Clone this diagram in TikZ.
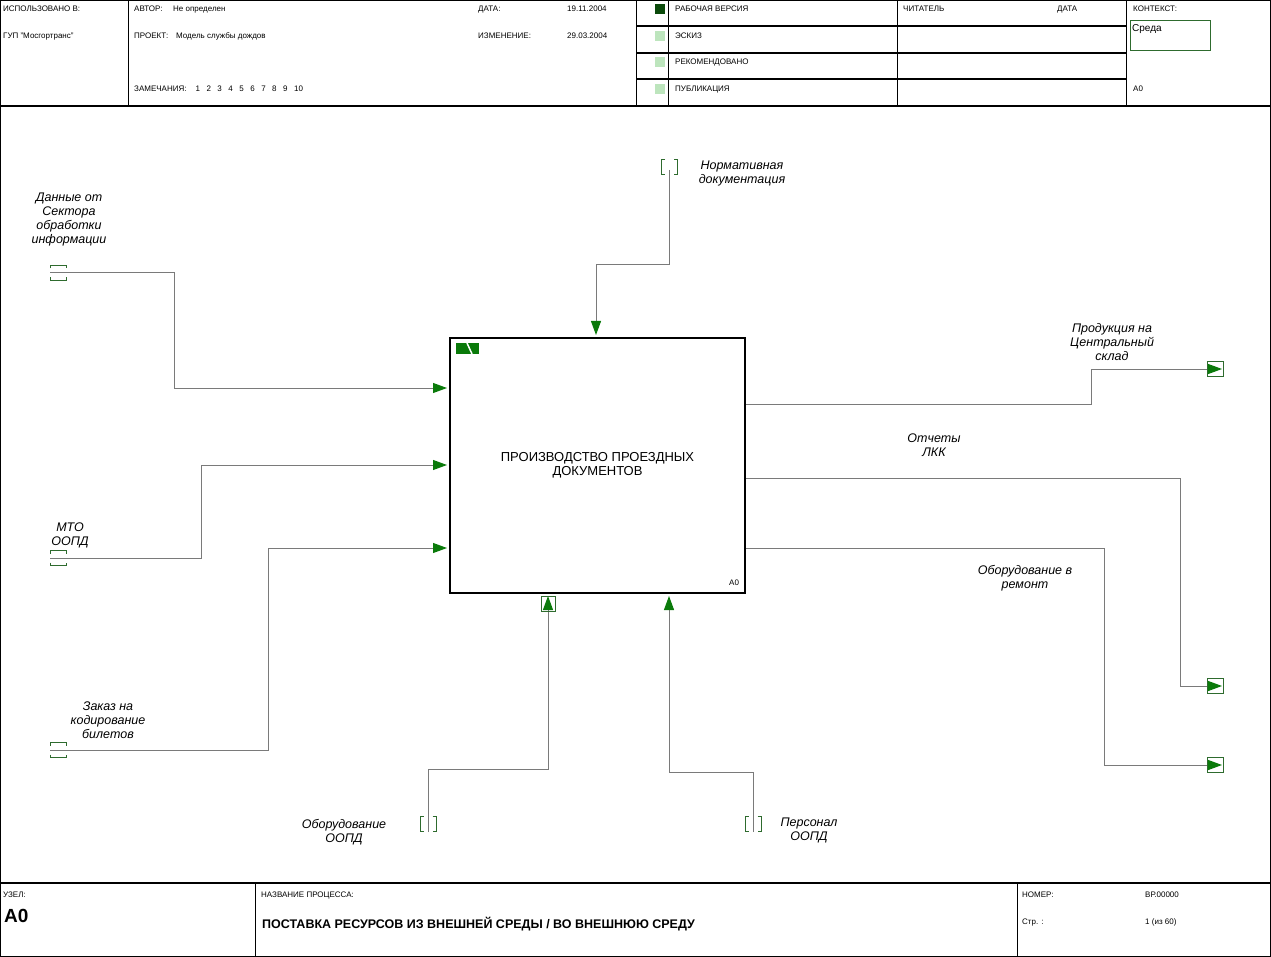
\documentclass[tikz,border=0pt]{standalone}
\usepackage{fontspec}
\setmainfont{Liberation Sans}
\usetikzlibrary{arrows.meta,calc}
\definecolor{agreen}{HTML}{0A7A0A}
\definecolor{tgreen}{HTML}{2E6B2E}
\definecolor{dgreen}{HTML}{0B4A0B}
\definecolor{lgreen}{HTML}{BDE5BD}
\definecolor{lgray}{HTML}{7A7A7A}
\newcommand\htunnel[1]{%
  \draw[tun] ($(#1)+(-8,-4.5)$) -- ($(#1)+(-8,-7.5)$) -- ($(#1)+(8,-7.5)$) -- ($(#1)+(8,-4.5)$);
  \draw[tun] ($(#1)+(-8,4.5)$) -- ($(#1)+(-8,7.5)$) -- ($(#1)+(8,7.5)$) -- ($(#1)+(8,4.5)$);}
\newcommand\vtunnel[1]{%
  \draw[tun] ($(#1)+(-4.5,-7.5)$) -- ($(#1)+(-8,-7.5)$) -- ($(#1)+(-8,7.5)$) -- ($(#1)+(-4.5,7.5)$);
  \draw[tun] ($(#1)+(4.5,-7.5)$) -- ($(#1)+(8,-7.5)$) -- ($(#1)+(8,7.5)$) -- ($(#1)+(4.5,7.5)$);}
\begin{document}
\begin{tikzpicture}[x=1pt,y=-1pt,
  hdr/.style={anchor=base west, inner sep=0, font=\fontsize{8}{9.5}\selectfont},
  lbl/.style={align=center, inner sep=0, font=\itshape\fontsize{12.5}{14}\selectfont},
  conn/.style={draw=lgray, line width=1pt, shorten >=3pt, -{Triangle[length=14pt,width=10pt,color=agreen]}},
  tun/.style={draw=tgreen, line width=1pt},
  gridline/.style={draw=black, line width=1pt},
  boldline/.style={draw=black, line width=2pt}]
\useasboundingbox (0,0) rectangle (1271,957);
% outer frame
\draw[gridline] (0.7,0.7) rectangle (1270.3,956.3);
% header
\draw[boldline] (0,106) -- (1271,106);
\foreach \x in {128,636,668,897,1126} \draw[gridline] (\x,0) -- (\x,106);
\foreach \y in {26.5,53,79.5} \draw[boldline] (636,\y) -- (1126,\y);
\node[hdr] (hA) at (3,12) {ИСПОЛЬЗОВАНО В:};
\node[hdr] (hB) at (3,39) {ГУП "Мосгортранс"};
\node[hdr] (hC) at (134,12) {АВТОР:};
\node[hdr] (hD) at (173,12) {Не определен};
\node[hdr] (hE) at (134,39) {ПРОЕКТ:};
\node[hdr] (hF) at (176,39) {Модель службы дождов};
\node[hdr] (hG) at (134,92) {ЗАМЕЧАНИЯ:\hspace{9pt}1\hspace{6.5pt}2\hspace{6.5pt}3\hspace{6.5pt}4\hspace{6.5pt}5\hspace{6.5pt}6\hspace{6.5pt}7\hspace{6.5pt}8\hspace{6.5pt}9\hspace{6.5pt}10};
\node[hdr] (hH) at (478,12) {ДАТА:};
\node[hdr] (hI) at (567,12) {19.11.2004};
\node[hdr] (hJ) at (478,39) {ИЗМЕНЕНИЕ:};
\node[hdr] (hK) at (567,39) {29.03.2004};
\fill[dgreen] (655,4.5) rectangle (665,14.5);
\foreach \y in {31,57.5,84} \fill[lgreen] (655,\y) rectangle (665,\y+10);
\node[hdr] (hL) at (675,12) {РАБОЧАЯ ВЕРСИЯ};
\node[hdr] (hM) at (675,39) {ЭСКИЗ};
\node[hdr] (hN) at (675,65) {РЕКОМЕНДОВАНО};
\node[hdr] (hO) at (675,92) {ПУБЛИКАЦИЯ};
\node[hdr] (hP) at (903,12) {ЧИТАТЕЛЬ};
\node[hdr] (hQ) at (1057,12) {ДАТА};
\node[hdr] (hR) at (1133,12) {КОНТЕКСТ:};
\draw[draw=tgreen, line width=1pt] (1130,21) rectangle (1210,51);
\node[anchor=base west, inner sep=0, font=\fontsize{10}{11}\selectfont] (hS) at (1132,32) {Среда};
\node[hdr] (hT) at (1133,92) {А0};
% footer
\draw[boldline] (0,883) -- (1271,883);
\draw[gridline] (255,883) -- (255,957);
\draw[gridline] (1017,883) -- (1017,957);
\node[hdr] (fA) at (3,897) {УЗЕЛ:};
\node[anchor=base west, inner sep=0, font=\bfseries\fontsize{19}{22}\selectfont] (fB) at (4,922) {А0};
\node[hdr] (fC) at (261,897) {НАЗВАНИЕ ПРОЦЕССА:};
\node[anchor=base west, inner sep=0, font=\bfseries\fontsize{12.5}{14}\selectfont] (fD) at (262,928.5) {ПОСТАВКА РЕСУРСОВ ИЗ ВНЕШНЕЙ СРЕДЫ / ВО ВНЕШНЮЮ СРЕДУ};
\node[hdr] (fE) at (1022,897) {НОМЕР:};
\node[hdr] (fF) at (1145,897) {ВР.00000};
\node[hdr] (fG) at (1022,924) {Стр. :};
\node[hdr] (fH) at (1145,924) {1 (из 60)};
% main box
\node[draw=black, line width=2pt, minimum width=295pt, minimum height=255pt, align=center,
  font=\fontsize{13}{14}\selectfont] (box) at (597.5,465.5) {ПРОИЗВОДСТВО ПРОЕЗДНЫХ\\ДОКУМЕНТОВ};
\node[hdr] (boxid) at (729,585) {А0};
\fill[agreen] (456,343) rectangle (479,354);
\draw[white, line width=1.5pt] (467,343) -- (472,354);
% box attachment points
\coordinate (i1) at (450,388);
\coordinate (i2) at (450,465);
\coordinate (i3) at (450,548);
\coordinate (c1) at (596,338);
\coordinate (m1) at (548,593);
\coordinate (m2) at (669,593);
\coordinate (r1) at (746,404);
\coordinate (r2) at (746,478);
\coordinate (r3) at (746,548);
% tunnel ends
\coordinate (t1) at (50,273);
\coordinate (t2) at (50,558);
\coordinate (t3) at (50,750);
\coordinate (tc) at (669.5,170);
\coordinate (tm1) at (428,832);
\coordinate (tm2) at (753,832);
\coordinate (o1) at (1222,369);
\coordinate (o2) at (1222,686);
\coordinate (o3) at (1222,765);
% connectors
\draw[conn] (t1) -- (174,273) |- (i1);
\draw[conn] (t2) -- (201,558) |- (i2);
\draw[conn] (t3) -- (268,750) |- (i3);
\draw[conn] (tc) -- (669.5,265) -| (c1);
\draw[conn] (tm1) -- (428,769) -| (m1);
\draw[conn] (tm2) -- (753,772) -| (m2);
\draw[conn, shorten >=0pt] (r1) -- (1091,404) |- (o1);
\draw[conn, shorten >=0pt] (r2) -- (1180,478) |- (o2);
\draw[conn, shorten >=0pt] (r3) -- (1104,548) |- (o3);
% tunnels
\htunnel{58,273}
\htunnel{58,558}
\htunnel{58,750}
\vtunnel{669.5,167}
\vtunnel{428,824}
\vtunnel{753,824}
\draw[tun] (541,596) rectangle (555,611);
\foreach \y in {369,686,765} \draw[tun] (1207,\y-7.5) rectangle (1223,\y+7.5);
% labels
\node[lbl] (L1) at (69,219) {Данные от\\Сектора\\обработки\\информации};
\node[lbl] (L2) at (70,535) {МТО\\ООПД};
\node[lbl] (L3) at (108,720) {Заказ на\\кодирование\\билетов};
\node[lbl] (L4) at (742,173) {Нормативная\\документация};
\node[lbl] (L5) at (344,832) {Оборудование\\ООПД};
\node[lbl] (L6) at (809,830) {Персонал\\ООПД};
\node[lbl] (L7) at (1112,342) {Продукция на\\Центральный\\склад};
\node[lbl] (L8) at (934,445) {Отчеты\\ЛКК};
\node[lbl] (L9) at (1025,578) {Оборудование в\\ремонт};
\end{tikzpicture}
\end{document}
